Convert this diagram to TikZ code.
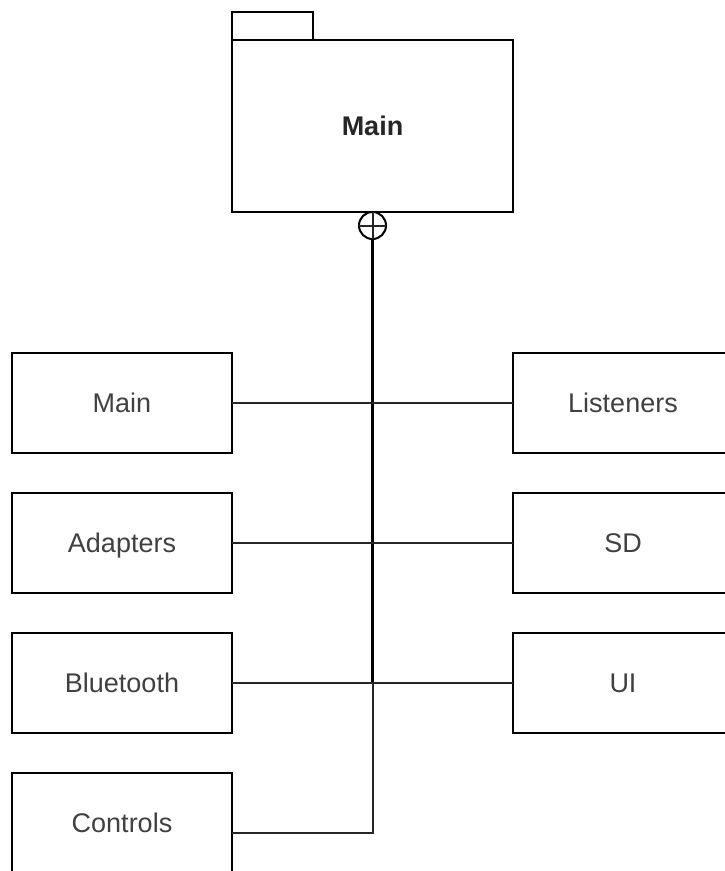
\documentclass[tikz,border=0pt]{standalone}
\usepackage{fontspec}
\setmainfont{Liberation Sans}
\usetikzlibrary{positioning}
\newcommand{\modw}{220pt}
\newcommand{\modh}{100pt}
\tikzset{
    pkgsty/.style={draw,rectangle,line width=2pt,outer sep=0pt,minimum width=281pt,minimum height=172pt,
        text height=19.5pt,text depth=0pt,font=\fontsize{27}{32}\selectfont\bfseries,text=black!85},
    tabsty/.style={draw,rectangle,line width=2pt,outer sep=0pt,minimum width=81pt,minimum height=28pt,anchor=south west},
    modsty/.style={draw,rectangle,line width=2pt,outer sep=0pt,minimum width=\modw,minimum height=\modh,
        text height=19.5pt,text depth=0pt,font=\fontsize{27}{32}\selectfont,text=black!75},
    neststy/.style={draw,circle,line width=2pt,outer sep=0pt,inner sep=0pt,minimum size=27pt,anchor=north},
    linksty/.style={line width=2pt,black!85},
    trunksty/.style={line width=3pt},
}

\begin{document}
\begin{tikzpicture}[x=1pt,y=-1pt]
\useasboundingbox (0,0) rectangle (725,871);
\clip (0,0) rectangle (725,871);

% package
\node[pkgsty] (pkg) at (372.5,126) {Main};
\node[tabsty] (tab) at (pkg.north west) {};
\node[neststy] (nest) at (pkg.south) {};

% modules
\node[modsty] (main) at (122,402.5) {Main};
\node[modsty, below=40pt of main] (adp) {Adapters};
\node[modsty, below=40pt of adp] (blt) {Bluetooth};
\node[modsty, below=40pt of blt] (ctl) {Controls};
\node[modsty, right=281pt of main] (lis) {Listeners};
\node[modsty, right=281pt of adp] (sd) {SD};
\node[modsty, right=281pt of blt] (ui) {UI};
\coordinate (ctlport) at ([yshift=-10pt]ctl.east);

\draw[linksty] (nest.north) -- (nest.south) (nest.west) -- (nest.east);
\draw[linksty] (nest.south) |- (ctlport);
\draw[trunksty] (nest.south) -- (nest.south |- blt.east);
\draw[linksty] (main) -- (lis);
\draw[linksty] (adp) -- (sd);
\draw[linksty] (blt) -- (ui);
\end{tikzpicture}
\end{document}
